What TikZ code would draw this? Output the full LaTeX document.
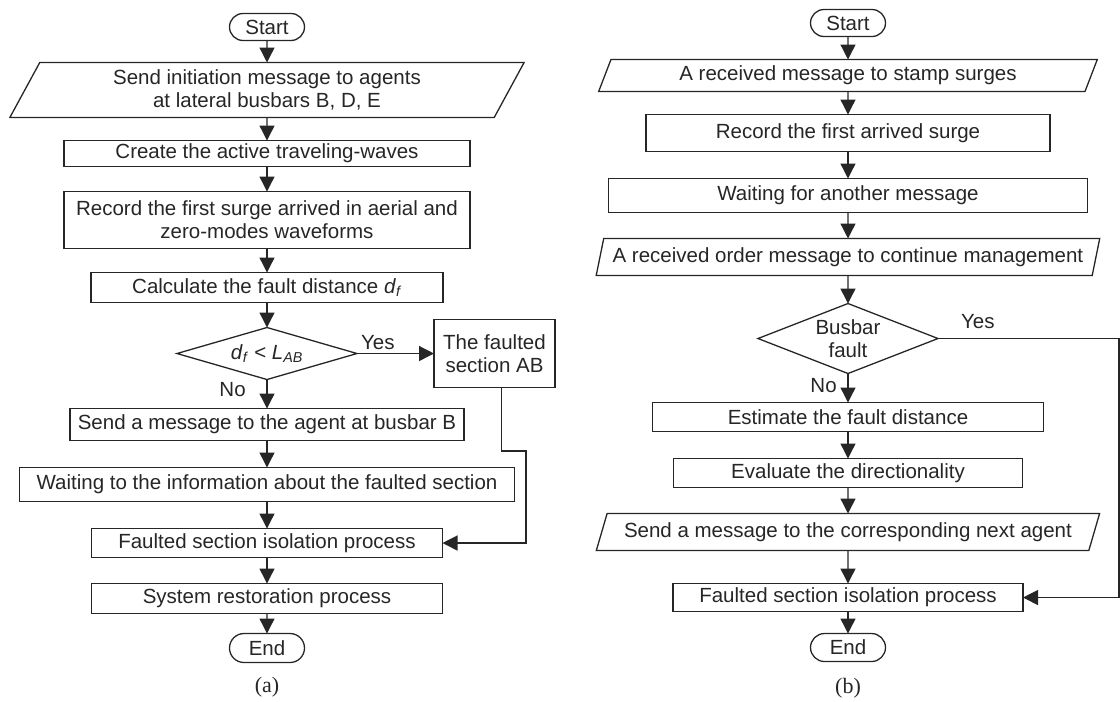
\documentclass[tikz,border=0pt]{standalone}
\usepackage{fontspec}
\setmainfont{Liberation Sans}
\newfontfamily\capfont{Liberation Serif}
\usetikzlibrary{positioning,arrows.meta,shapes.geometric,shapes.misc}

\begin{document}
\begin{tikzpicture}[
    x=1pt, y=1pt,
    color=black!85,
    font=\fontsize{20.5}{23}\selectfont,
    line width=1.3pt,
    every node/.style={outer sep=0pt},
    box/.style={draw, rectangle, align=center, minimum height=30pt, inner xsep=3pt, inner ysep=0pt},
    term/.style={draw, rounded rectangle, minimum width=75pt, minimum height=27pt, inner sep=0pt},
    io/.style={draw, trapezium, trapezium left angle=#1, trapezium right angle=180-#1,
      trapezium stretches=true, align=center, inner xsep=3pt, inner ysep=0pt},
    dec/.style={draw, diamond, align=center, inner sep=0pt},
    arr/.style={-{Triangle[length=15pt,width=15pt]}},
    captext/.style={font=\capfont\fontsize{22}{24}\selectfont}
  ]
    \useasboundingbox (0,0) rectangle (1120,-702);

    % (a) agent at the main busbar
    \node[term] (sa) at (267,-27) {Start};
    \node[io=63, minimum width=516pt, minimum height=55pt, below=22pt of sa] (ia) {Send initiation message to agents\\at lateral busbars B, D, E};
    \node[box, minimum width=406pt, minimum height=26pt, below=23pt of ia] (cr) {Create the active traveling-waves};
    \node[box, minimum width=406pt, minimum height=57pt, below=25pt of cr] (rca) {Record the first surge arrived in aerial and\\zero-modes waveforms};
    \node[box, minimum width=352pt, below=24pt of rca] (calc) {Calculate the fault distance \textit{d}\textsubscript{\textit{f}}};
    \node[dec, aspect=3.4, minimum width=180pt, minimum height=52pt, below=25pt of calc] (dla) {\textit{d}\textsubscript{\textit{f}} < \textit{L}\textsubscript{\textit{AB}}};
    \node[box, minimum width=121pt, minimum height=68pt, right=77pt of dla] (ab) {The faulted\\section AB};
    \node[box, minimum width=394pt, minimum height=32pt, below=29pt of dla] (snd) {Send a message to the agent at busbar B};
    \node[box, minimum width=495pt, minimum height=34pt, below=27pt of snd] (wta) {Waiting to the information about the faulted section};
    \node[box, minimum width=351pt, minimum height=29pt, below=27pt of wta] (isoa) {Faulted section isolation process};
    \node[box, minimum width=351pt, below=26pt of isoa] (sys) {System restoration process};
    \node[term, minimum height=29pt, below=20pt of sys] (ea) {End};
    \node[captext] (capa) at (267,-687) {(a)};

    \foreach \a/\b in {sa/ia, ia/cr, cr/rca, rca/calc, calc/dla, snd/wta, wta/isoa, isoa/sys, sys/ea}
      \draw[arr] (\a) -- (\b);
    \draw[arr] (dla) -- node[left=18pt, pos=0.35]{No} (snd);
    \draw[arr] (dla.east) -- node[above=0pt, pos=0.27]{Yes} (ab.west);
    \coordinate (jog) at (526,-451);
    \draw[arr] ([xshift=7pt]ab.south) |- (jog) |- (isoa.east);

    % (b) agent at a lateral busbar
    \node[term] (sb) at (848,-23) {Start};
    \node[io=65, minimum width=500pt, minimum height=32pt, below=23pt of sb] (ib1) {A received message to stamp surges};
    \node[box, minimum width=404pt, minimum height=37pt, below=23pt of ib1] (rcb) {Record the first arrived surge};
    \node[box, minimum width=479pt, minimum height=34pt, below=27pt of rcb] (wtb) {Waiting for another message};
    \node[io=69, minimum width=505pt, minimum height=37pt, below=26pt of wtb] (ib2) {A received order message to continue management};
    \node[dec, aspect=2.4, minimum width=180pt, minimum height=70pt, below=28pt of ib2] (dlb) {Busbar\\fault};
    \node[box, minimum width=391pt, minimum height=29pt, below=29pt of dlb] (est) {Estimate the fault distance};
    \node[box, minimum width=349pt, minimum height=29pt, below=27pt of est] (ev) {Evaluate the directionality};
    \node[io=62, minimum width=504pt, minimum height=37pt, below=26pt of ev] (ib3) {Send a message to the corresponding next agent};
    \node[box, minimum width=350pt, minimum height=28pt, below=33pt of ib3] (isob) {Faulted section isolation process};
    \node[term, minimum height=28pt, below=22pt of isob] (eb) {End};
    \node[captext] (capb) at (848,-688) {(b)};

    \foreach \a/\b in {sb/ib1, ib1/rcb, rcb/wtb, wtb/ib2, ib2/dlb, est/ev, ev/ib3, ib3/isob, isob/eb}
      \draw[arr] (\a) -- (\b);
    \draw[arr] (dlb) -- node[left=8pt, pos=0.4]{No} (est);
    \coordinate (rim) at (1119,0);
    \draw[arr] (dlb.east) -- node[above=6pt, pos=0.22]{Yes} (dlb.east -| rim) |- (isob.east);
\end{tikzpicture}
\end{document}
